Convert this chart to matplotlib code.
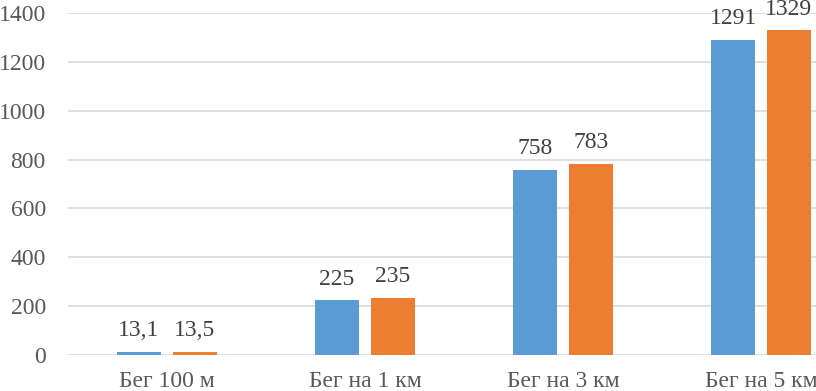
import matplotlib
matplotlib.use("Agg")
import matplotlib.pyplot as plt
import numpy as np

categories = ["Бег 100 м", "Бег на 1 км", "Бег на 3 км", "Бег на 5 км"]
series_a = [13.1, 225, 758, 1291]
series_b = [13.5, 235, 783, 1329]
labels_a = ["13,1", "225", "758", "1291"]
labels_b = ["13,5", "235", "783", "1329"]
yticks = [0, 200, 400, 600, 800, 1000, 1200, 1400]

plt.rcParams['font.family'] = ['Liberation Serif', 'DejaVu Serif']

W, H = 816, 391
fig = plt.figure(figsize=(W / 100, H / 100), dpi=100)
left, right = 68, 860
bottom, top = 355, 13
ax = fig.add_axes([left / W, 1 - bottom / H, (right - left) / W, (bottom - top) / H])

x = np.arange(len(categories))
bw = 0.222
off = 0.141
blue = "#5B9BD5"
orange = "#ED7D31"
ba = ax.bar(x - off, series_a, bw, color=blue, zorder=3)
bb = ax.bar(x + off, series_b, bw, color=orange, zorder=3)

for rects, labs in ((ba, labels_a), (bb, labels_b)):
    for r, t in zip(rects, labs):
        ax.annotate(t, (r.get_x() + r.get_width() / 2, r.get_height()),
                    xytext=(0, 7.5), textcoords="offset points",
                    ha="center", va="bottom", fontsize=17, color="#404040")

ax.set_xlim(-0.5, 3.5)
ax.set_ylim(0, 1400)
ax.set_yticks(yticks)
ax.set_yticklabels([str(v) for v in yticks])
ax.set_xticks(x)
ax.set_xticklabels(categories)
ax.grid(axis="y", color="#D9D9D9", linewidth=1.2, zorder=0)
ax.tick_params(axis="both", length=0, labelsize=17, labelcolor="#595959")
ax.tick_params(axis="y", pad=16)
ax.tick_params(axis="x", pad=11.5)
for s in ax.spines.values():
    s.set_visible(False)

fig.savefig("out.png", dpi=100)
